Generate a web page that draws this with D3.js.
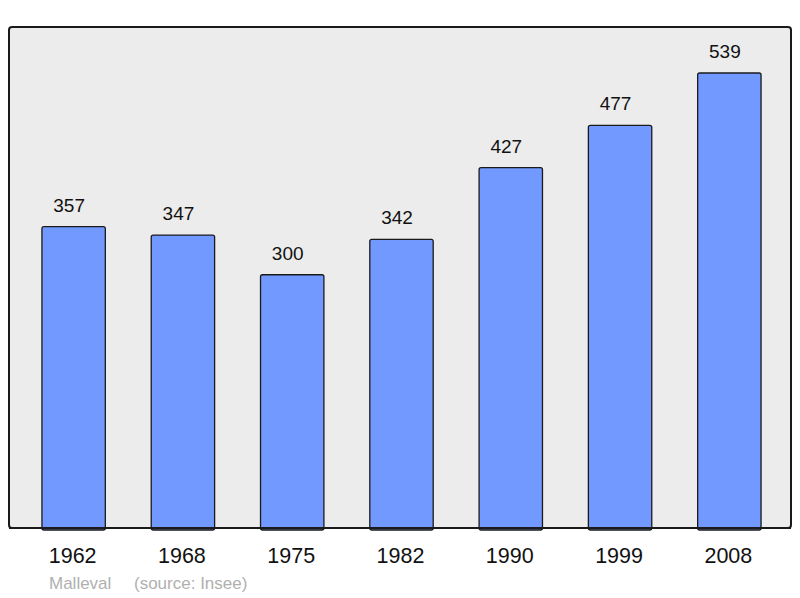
<!DOCTYPE html>
<html><head><meta charset="utf-8">
<script src="https://cdn.jsdelivr.net/npm/d3@7"></script>
<style>body{margin:0;background:#fff}svg{display:block}</style>
</head><body>
<script>
const years = ["1962","1968","1975","1982","1990","1999","2008"];
const population = [357,347,300,342,427,477,539];
const commune = "Malleval";
const source = "(source: Insee)";

const W = 800, H = 598;
const svg = d3.select("body").append("svg").attr("width", W).attr("height", H);
const frame = {x0: 9, y0: 27, x1: 791, y1: 528};
const font = "Liberation Sans, Arial, sans-serif";

svg.append("rect").attr("x", frame.x0).attr("y", frame.y0)
  .attr("width", frame.x1 - frame.x0).attr("height", frame.y1 - frame.y0)
  .attr("rx", 3).attr("fill", "#ececec").attr("stroke", "#1a1a1a").attr("stroke-width", 2);

const x = d3.scaleBand().domain(years).range([19, 784]).paddingInner(0.42).paddingOuter(0.21);
const y = d3.scaleLinear().domain([0, 539]).range([frame.y1, 73]);

const data = years.map((yr, i) => ({yr, v: population[i]}));

svg.selectAll("rect.bar").data(data).enter().append("rect").attr("class", "bar")
  .attr("x", d => x(d.yr)).attr("y", d => y(d.v))
  .attr("width", x.bandwidth()).attr("height", d => y(0) - y(d.v) + 2)
  .attr("rx", 2).attr("fill", "#7199ff").attr("stroke", "#1a1a1a").attr("stroke-width", 1.3);

svg.append("line").attr("x1", frame.x0).attr("x2", frame.x1).attr("y1", frame.y1).attr("y2", frame.y1)
  .attr("stroke", "#1a1a1a").attr("stroke-width", 2);

svg.selectAll("text.val").data(data).enter().append("text").attr("class", "val")
  .attr("x", d => x(d.yr) + x.bandwidth() / 2 - 4.5).attr("y", d => y(d.v) - 15)
  .attr("text-anchor", "middle").attr("font-family", font)
  .attr("font-size", 19).attr("fill", "#111").text(d => d.v);

svg.selectAll("text.yr").data(data).enter().append("text").attr("class", "yr")
  .attr("x", d => x(d.yr) + x.bandwidth() / 2 - 1).attr("y", 563)
  .attr("text-anchor", "middle").attr("font-family", font)
  .attr("font-size", 21.5).attr("fill", "#111").text(d => d.yr);

svg.append("text").attr("x", 49).attr("y", 589).attr("font-family", font)
  .attr("font-size", 17).attr("fill", "#b0b0b0").text(commune);
svg.append("text").attr("x", 134).attr("y", 589).attr("font-family", font)
  .attr("font-size", 17).attr("fill", "#b0b0b0").text(source);
</script>
</body></html>
